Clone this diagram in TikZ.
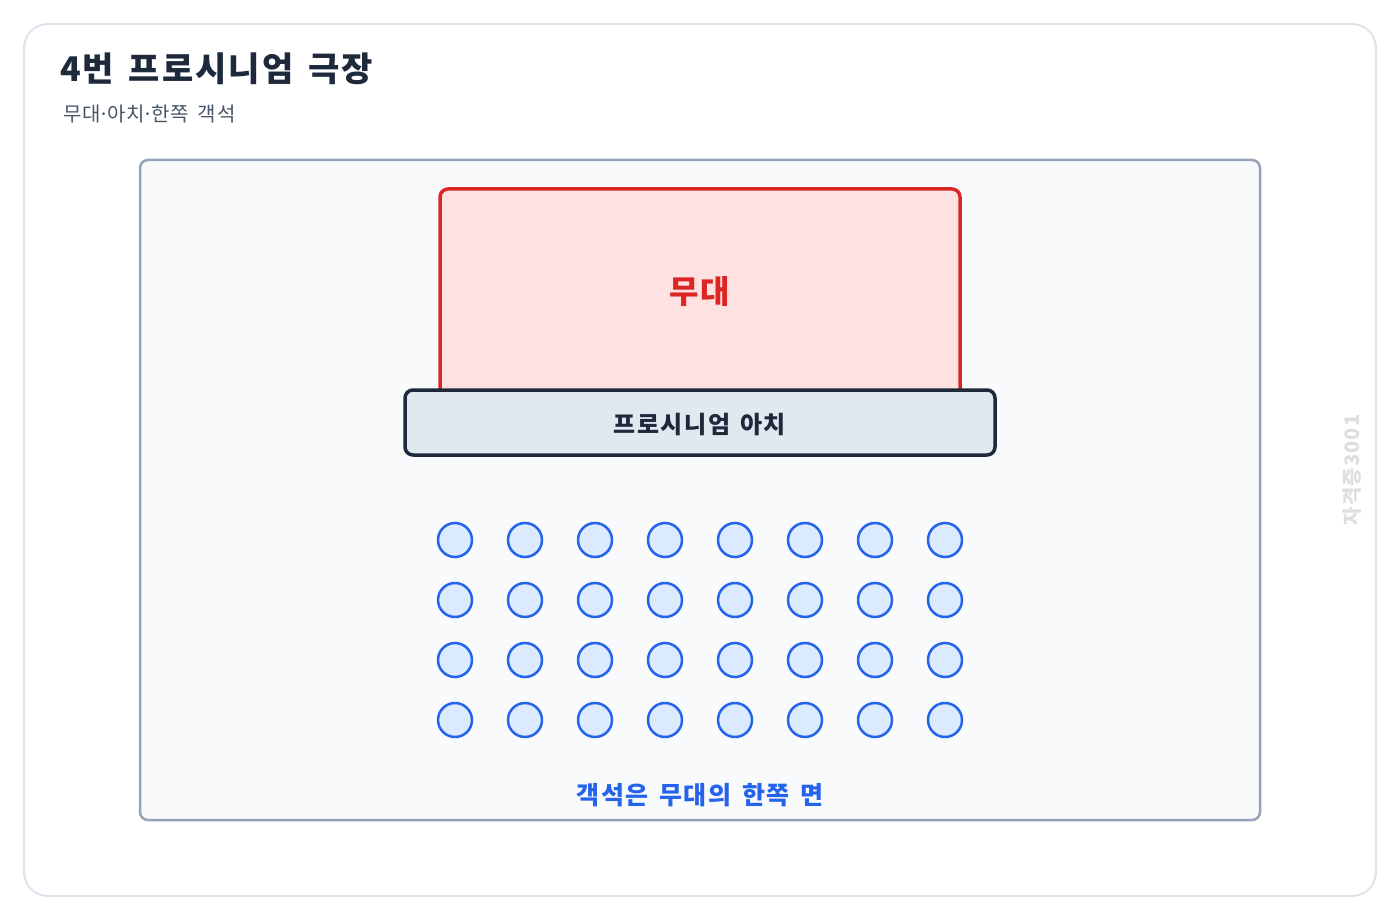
\documentclass[tikz,border=0pt]{standalone}
\usepackage{fontspec}
\setmainfont[WordSpace=1.5, LetterSpace=6]{Noto Sans CJK KR}

\definecolor{tinta}{HTML}{1E293B}
\definecolor{gris}{HTML}{475569}
\definecolor{rojo}{HTML}{DC2626}
\definecolor{rosa}{HTML}{FEE2E2}
\definecolor{azul}{HTML}{2563EB}
\definecolor{celeste}{HTML}{DBEAFE}
\definecolor{panel}{HTML}{F8FAFC}
\definecolor{borde}{HTML}{94A3B8}
\definecolor{marco}{HTML}{DCE3EC}
\definecolor{arcofondo}{HTML}{E2E8F0}

\newcommand{\punto}{\makebox[6pt]{·}}

\tikzset{
  asiento/.style={circle, draw=azul, fill=celeste, line width=2.5pt, minimum size=34pt, inner sep=0pt},
  rotulo/.style={font=\bfseries\fontsize{24}{28}\selectfont}
}

\begin{document}
\begin{tikzpicture}[x=1pt,y=-1pt]
        % Paso 1: Fija el marco de la tarjeta
        \useasboundingbox (0,0) rectangle (1400,920);
        \draw[draw=marco, line width=2pt, rounded corners=24pt, fill=white]
             (24,24) rectangle (1376,896);

        % Paso 2: Titulo y subtitulo
        \node[anchor=base west, text=tinta, font=\bfseries\fontsize{34}{40}\selectfont, inner sep=0pt]
             (titulo) at (60,82) {4번 프로시니엄 극장};
        \node[anchor=base west, text=gris, font=\fontsize{20}{24}\selectfont, inner sep=0pt]
             (subtitulo) at (63,122) {무대\punto 아치\punto 한쪽 객석};

        % Paso 3: Dibuja el panel del plano
        \draw[draw=borde, line width=2.5pt, rounded corners=8pt, fill=panel]
             (140,160) rectangle (1260,820);

        % Paso 4: Escenario y arco
        \draw[draw=rojo, fill=rosa, line width=3.5pt, rounded corners=8pt]
             (440,400) -- (440,189) -- (960,189) -- (960,400);
        \node[text=rojo, font=\bfseries\fontsize{32}{38}\selectfont] (escena) at (700,292) {무대};
        \node[draw=tinta, fill=arcofondo, line width=3.5pt, rounded corners=8pt,
              minimum width=590pt, minimum height=65pt, inner sep=0pt] (arco) at (700,422.5) {};
        \node[rotulo, text=tinta] (arcotxt) at (700,425) {프로시니엄 아치};

        % Paso 5: Asientos del publico (4 filas x 8)
        \foreach \f in {0,...,3}
          \foreach \c in {0,...,7}
            \node[asiento] (s\f\c) at (455+70*\c,540+60*\f) {};

        % Paso 6: Leyenda y marca de agua
        \node[rotulo, text=azul, font=\bfseries\fontsize{25}{29}\selectfont] (leyenda) at (700,795) {객석은 무대의 한쪽 면};
        \node[rotate=90, text=black!13, font=\bfseries\fontsize{20}{24}\selectfont]
             (marca) at (1352,470) {자격증3001};
    \end{tikzpicture}
\end{document}
